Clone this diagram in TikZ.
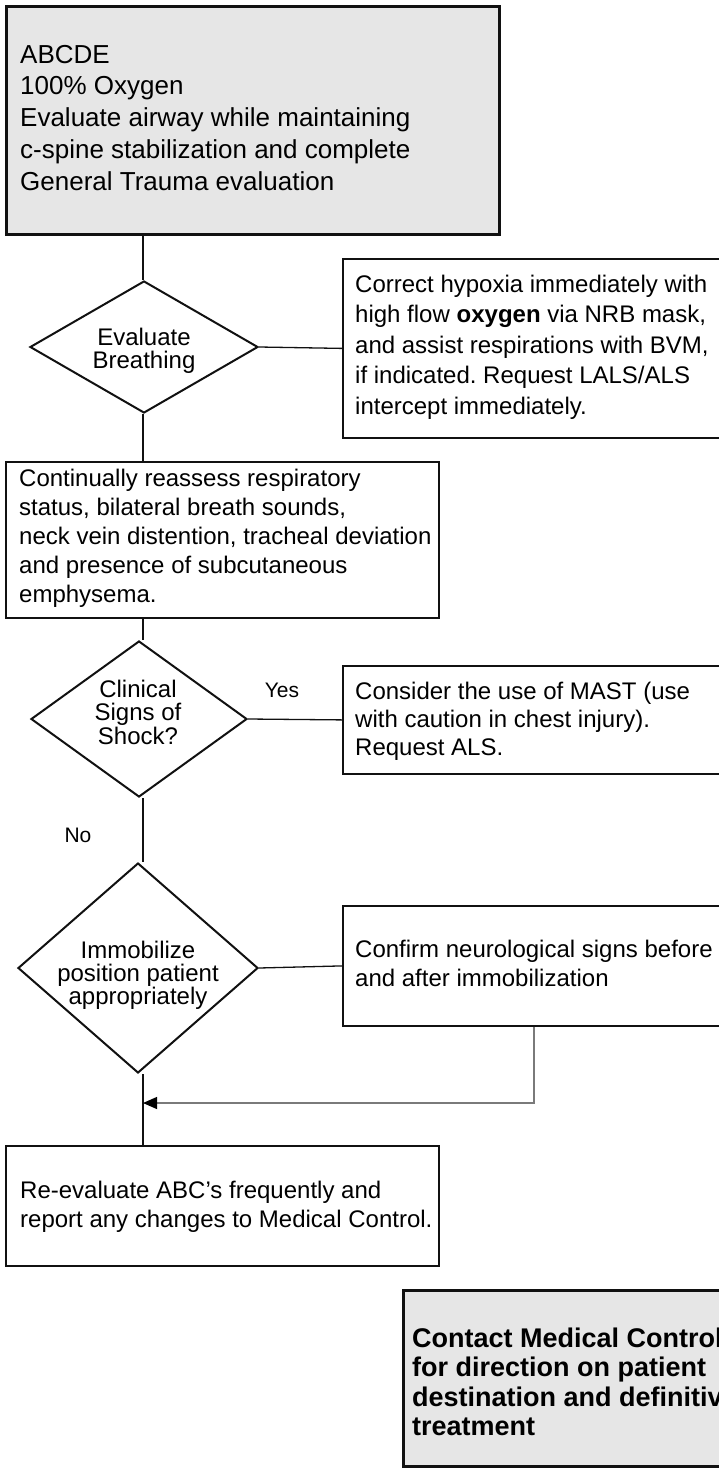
\documentclass[tikz,border=0pt]{standalone}
\usepackage{fontspec}
\setmainfont{Liberation Sans}
\usetikzlibrary{shapes.geometric,arrows.meta}
\definecolor{boxgray}{HTML}{E6E6E6}
\definecolor{edge}{HTML}{111111}
\definecolor{fbgray}{HTML}{7A7A7A}
\frenchspacing
\begin{document}
\begin{tikzpicture}[x=1pt,y=-1pt,
  box/.style={draw=edge,line width=1.8pt,rectangle,inner sep=0pt,anchor=north west},
  bigbox/.style={box,line width=3pt,fill=boxgray},
  dia/.style={draw=edge,line width=2pt,diamond,inner sep=0pt},
  txt/.style={inner sep=0pt,anchor=north west,align=left},
  ctxt/.style={inner sep=0pt,anchor=north,align=center},
  lbl/.style={inner sep=0pt,font=\fontsize{21}{24}\selectfont},
  conn/.style={draw=edge,line width=1.3pt},
  fb/.style={draw=fbgray,line width=1.2pt}]
\useasboundingbox (0,0) rectangle (719,1469);
\clip (0,0) rectangle (719,1469);

% main vertical axis
\coordinate (m) at (143,0);

% boxes
\node[bigbox,minimum width=493pt,minimum height=228pt] (ga) at (5,5) {};
\node[txt,font=\fontsize{26}{31.75}\selectfont] (gat) at (20,42.2)
  {\rule{0pt}{20.8pt}ABCDE\\100\% Oxygen\\Evaluate airway while maintaining\\c-spine stabilization and complete\\General Trauma evaluation};

\node[box,minimum width=420pt,minimum height=179pt] (cb) at (342,258) {};
\node[txt,font=\fontsize{24}{30.5}\selectfont] (cbt) at (355,272.8)
  {\rule{0pt}{19.2pt}Correct hypoxia immediately with\\high flow \textbf{oxygen} via NRB mask,\\and assist respirations with BVM,\\if indicated. Request LALS/ALS\\intercept immediately.};

\node[box,minimum width=433pt,minimum height=156pt] (cont) at (5,461) {};
\node[txt,font=\fontsize{24}{29}\selectfont] (contt) at (19,466.8)
  {\rule{0pt}{19.2pt}Continually reassess respiratory\\status, bilateral breath sounds,\\neck vein distention, tracheal deviation\\and presence of subcutaneous\\emphysema.};

\node[box,minimum width=420pt,minimum height=108pt] (mast) at (342,665) {};
\node[txt,font=\fontsize{24}{28}\selectfont] (mastt) at (355,679.8)
  {\rule{0pt}{19.2pt}Consider the use of MAST (use\\with caution in chest injury).\\Request ALS.};

\node[box,minimum width=420pt,minimum height=120pt] (conf) at (342,905) {};
\node[txt,font=\fontsize{24}{29}\selectfont] (conft) at (355,937.8)
  {\rule{0pt}{19.2pt}Confirm neurological signs before\\and after immobilization};

\node[box,minimum width=433pt,minimum height=120pt] (re) at (5,1145) {};
\node[txt,font=\fontsize{24}{29}\selectfont] (ret) at (20,1178.8)
  {\rule{0pt}{19.2pt}Re-evaluate ABC’s frequently and\\report any changes to Medical Control.};

\node[bigbox,minimum width=400pt,minimum height=176pt] (ct) at (402,1289) {};
\node[txt,font=\bfseries\fontsize{27}{29.5}\selectfont] (ctt) at (412,1325.4)
  {\rule{0pt}{21.6pt}Contact Medical Control\\for direction on patient\\destination and definitive\\treatment};

% diamonds
\node[dia,minimum width=228pt,minimum height=132pt] (d1) at (144,347) {};
\node[ctxt,font=\fontsize{24}{23}\selectfont] (d1t) at (144,325.8)
  {\rule{0pt}{19.2pt}Evaluate\\Breathing};

\node[dia,minimum width=216pt,minimum height=156pt] (d2) at (139,719) {};
\node[ctxt,font=\fontsize{24}{23.5}\selectfont] (d2t) at (138,677.8)
  {\rule{0pt}{19.2pt}Clinical\\Signs of\\Shock?};

\node[dia,minimum width=240pt,minimum height=210pt] (d3) at (138,968) {};
\node[ctxt,font=\fontsize{24}{23}\selectfont] (d3t) at (138,938.8)
  {\rule{0pt}{19.2pt}Immobilize\\position patient\\appropriately};

% labels
\node[lbl] (yes) at (282,690) {Yes};
\node[lbl] (no) at (78,835) {No};

% connectors
\draw[conn] (ga.south -| m) -- (d1.north -| m);
\draw[conn] (d1.east) -- (cb.west);
\draw[conn] (d1.south -| m) -- (cont.north -| m);
\draw[conn] (cont.south -| m) -- (d2.north -| m);
\draw[conn] (d2.east) -- (mast.west);
\draw[conn] (d2.south -| m) -- (d3.north -| m);
\draw[conn] (d3.east) -- (conf.west);
\draw[conn] (d3.south -| m) -- (re.north -| m);
\coordinate (fbs) at ([xshift=192pt]conf.south west);
\coordinate (fbe) at (143,1103);
\draw[fb,-{Triangle[length=14pt,width=12pt,color=black]}] (fbs) |- (fbe);
\end{tikzpicture}
\end{document}
